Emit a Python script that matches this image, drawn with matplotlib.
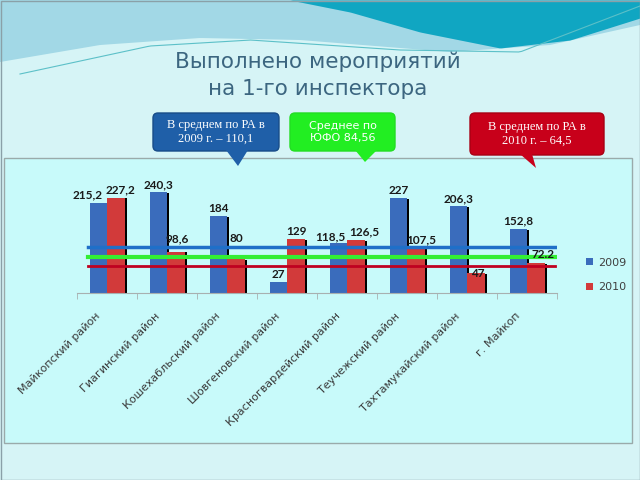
import matplotlib.pyplot as plt
import matplotlib.transforms as mtransforms
import numpy as np
from matplotlib.patches import FancyBboxPatch, Polygon, Rectangle

rayony = ["Майкопский район", "Гиагинский район", "Кошехабльский район",
          "Шовгеновский район", "Красногвардейский район", "Теучежский район",
          "Тахтамукайский район", "г. Майкоп"]
v2009 = [215.2, 240.3, 184, 27, 118.5, 227, 206.3, 152.8]
v2010 = [227.2, 98.6, 80, 129, 126.5, 107.5, 47, 72.2]
rotulos2009 = ["215,2", "240,3", "184", "27", "118,5", "227", "206,3", "152,8"]
rotulos2010 = ["227,2", "98,6", "80", "129", "126,5", "107,5", "47", "72.2"]
media_ra_2009 = 110.1
media_ufo = 84.56
media_ra_2010 = 64.5

# deslocamentos dos rótulos (pixels), como no slide original
desl2009 = {0: (-11, 2), 4: (-8, 1)}
desl2010 = {0: (4, 2), 1: (1, 7), 2: (0, 15), 4: (8, 3), 5: (5, 3), 6: (2, -6), 7: (7, 3)}

AZUL = "#3a6cbc"
VERMELHO = "#d23a3a"

fig = plt.figure(figsize=(6.4, 4.8), dpi=100)
fig.patch.set_facecolor("#d6f4f6")

# fundo do slide (coordenadas em pixels)
bg = fig.add_axes([0, 0, 1, 1], zorder=0)
bg.set_xlim(0, 640)
bg.set_ylim(480, 0)
bg.axis("off")

xs = np.linspace(0, 640, 200)
borda = np.interp(xs, [0, 100, 200, 300, 450, 550, 640], [62, 45, 38, 40, 52, 45, 25])
bg.fill_between(xs, 0, borda, color="#a2d8e6", lw=0)
xt = np.linspace(290, 640, 150)
bt = np.interp(xt, [290, 350, 420, 500, 570, 640], [0, 12, 32, 48, 40, 18])
bg.fill_between(xt, 0, bt, color="#10a6c2", lw=0)
xl = np.linspace(20, 640, 200)
bg.plot(xl, np.interp(xl, [20, 150, 250, 400, 520, 640], [74, 46, 40, 50, 52, 6]),
        color="#5cc0c8", lw=0.8)

bg.add_patch(Rectangle((4, 158), 628, 285, facecolor="#c8fafa", edgecolor="#9aaaaa", lw=1))
bg.add_patch(Rectangle((0.5, 0.5), 639, 479, facecolor="none", edgecolor="#8aa0a8", lw=1))

fig.text(0.497, 1 - 62 / 480, "Выполнено мероприятий", ha="center", va="center",
         fontsize=15.5, color="#3c6680")
fig.text(0.497, 1 - 89 / 480, "на 1-го инспектора", ha="center", va="center",
         fontsize=15.5, color="#3c6680")


def balao(x0, y0, x1, y1, ponta, cor, borda_cor, texto, familia, tam):
    bg.add_patch(FancyBboxPatch((x0, y0), x1 - x0, y1 - y0,
                                boxstyle="round,pad=0,rounding_size=5",
                                facecolor=cor, edgecolor=borda_cor, lw=1, zorder=3))
    bg.add_patch(Polygon(ponta, closed=True, facecolor=cor, edgecolor="none", zorder=3))
    bg.text((x0 + x1) / 2, (y0 + y1) / 2, texto, ha="center", va="center",
            color="white", fontsize=tam, family=familia, linespacing=1.15, zorder=4)


balao(153, 113, 279, 151, [(226, 150), (248, 150), (238, 166)], "#1f5fa8", "#184c88",
      "В среднем по РА в\n2009 г. – " + f"{media_ra_2009:.1f}".replace(".", ","),
      "Liberation Serif", 9)
balao(290, 113, 395, 151, [(355, 150), (377, 150), (365, 162)], "#22ee22", "#22dd22",
      "Среднее по\nЮФО " + f"{media_ufo:.2f}".replace(".", ","), "DejaVu Sans", 8)
balao(470, 113, 604, 155, [(520, 154), (532, 154), (536, 168)], "#c8001a", "#a80014",
      "В среднем по РА в\n2010 г. – " + f"{media_ra_2010:.1f}".replace(".", ","),
      "Liberation Serif", 9)

# gráfico principal
ax = fig.add_axes([77 / 640, 187 / 480, 480 / 640, 280 * 0.42 / 480], zorder=2)
ax.set_facecolor("none")
x = np.arange(len(rayony))
larg = 0.29
xb = x - 0.14
xr = x + 0.15
ax.bar(xb + 0.035, np.array(v2009) - 2, larg, color="black", zorder=1)
ax.bar(xr + 0.035, np.array(v2010) - 2, larg, color="black", zorder=1)
ax.bar(xb, v2009, larg, color=AZUL, zorder=2, label="2009")
ax.bar(xr, v2010, larg, color=VERMELHO, zorder=2, label="2010")

x0l = (88 - 77) / 480
ax.axhline(media_ra_2009, xmin=x0l, xmax=1.0, color="#1f6fc8", lw=2.5, zorder=3)
ax.axhline(media_ufo, xmin=x0l, xmax=1.0, color="#33ee33", lw=3, zorder=3)
ax.axhline(media_ra_2010, xmin=x0l, xmax=0.995, color="#c00020", lw=2, zorder=3)

for i in range(len(rayony)):
    dx, dy = desl2009.get(i, (0, 2))
    ax.annotate(rotulos2009[i], (xb[i], v2009[i]), xytext=(dx, dy),
                textcoords="offset pixels", ha="center", va="bottom",
                fontsize=8.5, family="Lato", fontweight="bold", color="#1a1a1a", zorder=4)
    dx, dy = desl2010.get(i, (0, 2))
    ax.annotate(rotulos2010[i], (xr[i], v2010[i]), xytext=(dx, dy),
                textcoords="offset pixels", ha="center", va="bottom",
                fontsize=8.5, family="Lato", fontweight="bold", color="#1a1a1a", zorder=4)

ax.set_xlim(-0.5, len(rayony) - 0.5)
ax.set_ylim(0, 280)
for lado in ["top", "right", "left"]:
    ax.spines[lado].set_visible(False)
ax.spines["bottom"].set_color("#a8b0b0")
ax.set_yticks([])
ax.set_xticks(x)
ax.set_xticklabels(rayony, rotation=45, ha="right", fontsize=8, color="#3a3a3a")
ax.tick_params(axis="x", length=0, pad=13)
desloca = mtransforms.ScaledTranslation(-5 / 100, 0, fig.dpi_scale_trans)
for rot in ax.get_xticklabels():
    rot.set_transform(rot.get_transform() + desloca)
ax.set_xticks(np.arange(-0.5, len(rayony)), minor=True)
ax.tick_params(axis="x", which="minor", length=4, color="#a8b0b0")

leg = ax.legend(loc="center left", bbox_to_anchor=(576 / 640, 1 - 275 / 480),
                bbox_transform=fig.transFigure, frameon=False, fontsize=8,
                handlelength=0.6, handleheight=0.6, labelspacing=1.3, handletextpad=0.5)
for t in leg.get_texts():
    t.set_color("#404040")

plt.savefig("out.png", dpi=100, facecolor=fig.get_facecolor())
plt.close()
